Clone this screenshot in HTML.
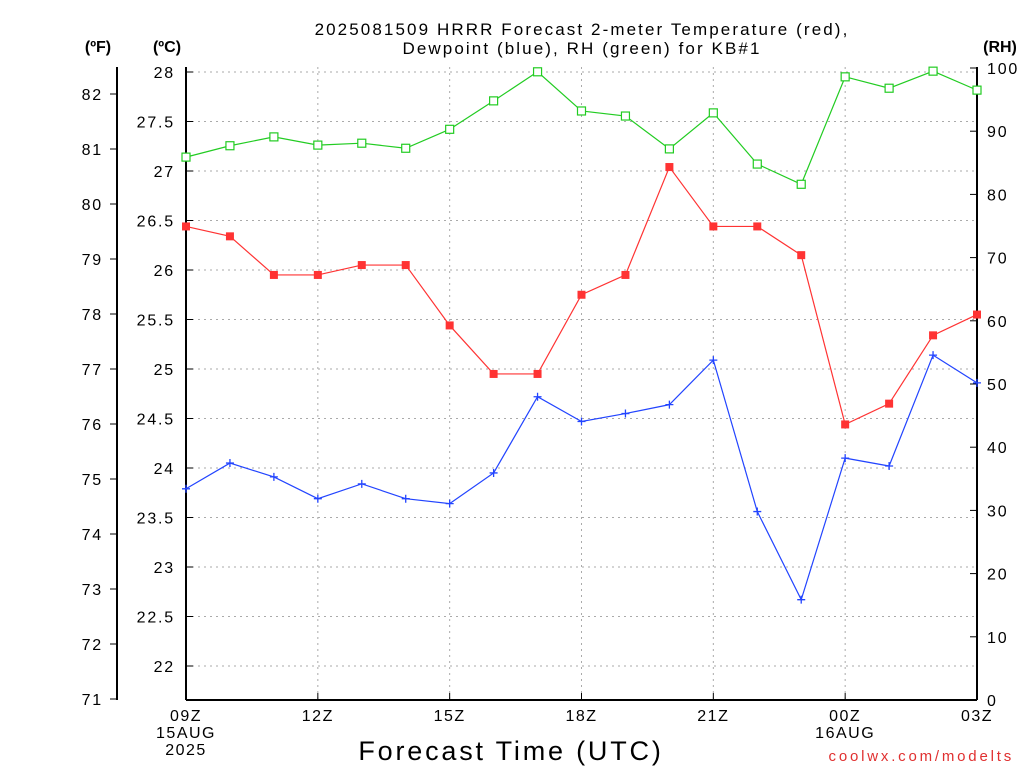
<!DOCTYPE html>
<html><head><meta charset="utf-8"><style>
body{margin:0;background:#fff}
svg{display:block;font-family:"Liberation Sans",sans-serif}
</style></head><body>
<svg id="c" width="1024" height="768" viewBox="0 0 1024 768">
<text x="582" y="35" text-anchor="middle" font-size="17" letter-spacing="2.1">2025081509 HRRR Forecast 2-meter Temperature (red),</text>
<text x="582" y="54" text-anchor="middle" font-size="17" letter-spacing="2.1">Dewpoint (blue), RH (green) for KB#1</text>
<text x="98" y="52" text-anchor="middle" font-size="16" font-weight="bold">(ºF)</text>
<text x="167" y="52" text-anchor="middle" font-size="16" font-weight="bold">(ºC)</text>
<text x="1000" y="52" text-anchor="middle" font-size="16" font-weight="bold">(RH)</text>
<text x="511" y="760" text-anchor="middle" font-size="27" letter-spacing="2.8">Forecast Time (UTC)</text>
<text x="1014" y="761" text-anchor="end" font-size="15" letter-spacing="2.8" fill="#e03030">coolwx.com/modelts</text>
<g id="g"></g>
</svg>
<script>
const hours=[0,1,2,3,4,5,6,7,8,9,10,11,12,13,14,15,16,17,18];
const tempC=[26.44,26.34,25.95,25.95,26.05,26.05,25.44,24.95,24.95,25.75,25.95,27.04,26.44,26.44,26.15,24.44,24.65,25.34,25.55];
const dewC=[23.79,24.05,23.91,23.69,23.84,23.69,23.64,23.95,24.72,24.47,24.55,24.64,25.09,23.56,22.67,24.10,24.02,25.14,24.86];
const rh=[85.9,87.7,89.1,87.8,88.1,87.3,90.3,94.8,99.4,93.2,92.4,87.2,92.9,84.8,81.6,98.6,96.8,99.5,96.5];
const cTicks=[22,22.5,23,23.5,24,24.5,25,25.5,26,26.5,27,27.5,28];
const fTicks=[71,72,73,74,75,76,77,78,79,80,81,82];
const rhTicks=[0,10,20,30,40,50,60,70,80,90,100];
const xLabels=[[0,"09Z","15AUG","2025"],[3,"12Z"],[6,"15Z"],[9,"18Z"],[12,"21Z"],[15,"00Z","16AUG"],[18,"03Z"]];
const L=186,R=977,T=67,B=700;
const x=h=>L+(R-L)*h/18;
const yC=c=>72+(28-c)*99;
const yF=f=>yC((f-32)/1.8);
const yR=r=>B-(B-68)*r/100;
const g=document.getElementById('g');
const NS="http://www.w3.org/2000/svg";
function mk(t,a,p){const e=document.createElementNS(NS,t);for(const k in a)e.setAttribute(k,a[k]);(p||g).appendChild(e);return e;}
cTicks.forEach(c=>{const e=mk('line',{x1:L,x2:R,y1:yC(c),y2:yC(c),stroke:'#aaa','stroke-dasharray':'2,4'});

});
xLabels.forEach(l=>{if(l[0]>0&&l[0]<18){const e=mk('line',{x1:x(l[0]),x2:x(l[0]),y1:T,y2:B,stroke:'#aaa','stroke-dasharray':'2,4'});

}});
const ax=[[L,T,L,B],[R,T,R,B],[L,B,R,B],[117,T,117,B]];
ax.forEach(a=>{const e=mk('line',{x1:a[0],y1:a[1],x2:a[2],y2:a[3],stroke:'#000','stroke-width':2});

});
cTicks.forEach(c=>{mk('line',{x1:L,x2:L+7,y1:yC(c),y2:yC(c),stroke:'#000'});
const t=mk('text',{x:175,y:yC(c)+6,'text-anchor':'end','font-size':16,'letter-spacing':1.8});t.textContent=c;

});
fTicks.forEach(f=>{mk('line',{x1:110,x2:117,y1:yF(f),y2:yF(f),stroke:'#000'});
const t=mk('text',{x:103,y:yF(f)+6,'text-anchor':'end','font-size':16,'letter-spacing':1.8});t.textContent=f;

});
rhTicks.forEach(r=>{mk('line',{x1:R-7,x2:R,y1:yR(r),y2:yR(r),stroke:'#000'});
const t=mk('text',{x:987,y:yR(r)+6,'font-size':16,'letter-spacing':1.8});t.textContent=r;

});
xLabels.forEach(l=>{mk('line',{x1:x(l[0]),x2:x(l[0]),y1:B,y2:B-7,stroke:'#000'});
for(let i=1;i<l.length;i++){const t=mk('text',{x:x(l[0]),y:B+21+(i-1)*17,'text-anchor':'middle','font-size':16,'letter-spacing':1.5});t.textContent=l[i];

}});
function series(vals,yf,col,marker,name){
const pts=vals.map((v,i)=>x(hours[i])+','+yf(v)).join(' ');
const pl=mk('polyline',{points:pts,fill:'none',stroke:col,'stroke-width':1.2});


vals.forEach((v,i)=>{const cx=x(hours[i]),cy=yf(v);let m;
if(marker==='fill')m=mk('rect',{x:cx-4,y:cy-4,width:8,height:8,fill:col});
else if(marker==='open')m=mk('rect',{x:cx-4,y:cy-4,width:8,height:8,fill:'#fff',stroke:col,'stroke-width':1.2});
else m=mk('path',{d:`M${cx-4},${cy}H${cx+4}M${cx},${cy-4}V${cy+4}`,stroke:col,'stroke-width':1.3});

});}
series(rh,yR,'#22cc22','open','rh');
series(tempC,yC,'#ff3333','fill','temperature');
series(dewC,yC,'#2244ff','plus','dewpoint');
</script>
</body></html>
